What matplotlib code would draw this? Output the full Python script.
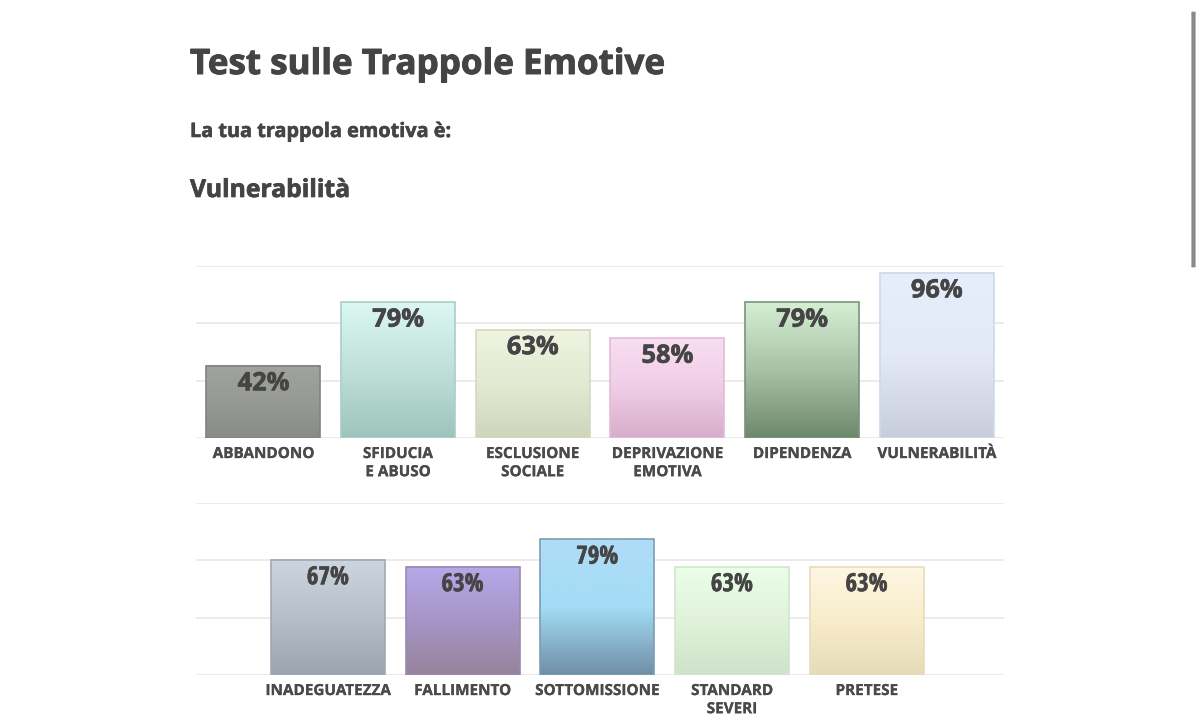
import numpy as np
import matplotlib.pyplot as plt
import matplotlib.patheffects as pe
from matplotlib.colors import LinearSegmentedColormap
from matplotlib.patches import FancyBboxPatch
from matplotlib import font_manager as fm

plt.rcParams['font.family'] = ['Open Sans', 'DejaVu Sans']

# dati
cat_alto = ['ABBANDONO', 'SFIDUCIA\nE ABUSO', 'ESCLUSIONE\nSOCIALE',
            'DEPRIVAZIONE\nEMOTIVA', 'DIPENDENZA', 'VULNERABILITÀ']
val_alto = [42, 79, 63, 58, 79, 96]
cat_basso = ['INADEGUATEZZA', 'FALLIMENTO', 'SOTTOMISSIONE',
             'STANDARD\nSEVERI', 'PRETESE']
val_basso = [67, 63, 79, 63, 63]

# sfumature (alto, centro, basso)
col_alto = [('#a1a49e', '#979a94', '#898c86'),
            ('#dcf7f1', '#bfe0d9', '#9dc4bc'),
            ('#eef4e0', '#e2ead2', '#cdd6bb'),
            ('#f9def3', '#efcde6', '#d9adcb'),
            ('#d5efd5', '#a8c1a6', '#6e886e'),
            ('#e7eefb', '#e3e9f6', '#c8cddc')]
col_basso = [('#cdd5de', '#b7bfc8', '#9ba3ac'),
             ('#b6a9e8', '#a695c6', '#96839c'),
             ('#b0dcf8', '#a4dcf5', '#6f8ea6'),
             ('#ebffe9', '#e0f2da', '#cee3cb'),
             ('#fef7e3', '#f8eccb', '#e6dbb7')]
bordi_alto = ['#80837e', '#a8cfc7', '#d2dbc2', '#e2bcd6', '#7a947a', '#d0d8ec']
bordi_basso = ['#a0a8b2', '#9a8ab0', '#7d9cb4', '#d2e6cf', '#e8ddbb']

testo = '#4a4a4a'


def font_file(nome, **kw):
    for f in fm.fontManager.ttflist:
        if f.fname.endswith(nome):
            return fm.FontProperties(fname=f.fname, **kw)
    return fm.FontProperties(family='DejaVu Sans', weight='bold', **kw)


def bold(size):
    return font_file('OpenSans-Bold.ttf', size=size)


def cond(size):
    return font_file('OpenSans-CondBold.ttf', size=size)


def spesso(lw, c):
    return [pe.withStroke(linewidth=lw, foreground=c)]


fig = plt.figure(figsize=(12, 7.18), dpi=100)
fig.patch.set_facecolor('white')

fig.text(190/1200, 1-74/718, 'Test sulle Trappole Emotive', fontproperties=bold(25.2),
         color='#444444', va='baseline', path_effects=spesso(0.7, '#444444'))
fig.text(190/1200, 1-137/718, 'La tua trappola emotiva è:', fontproperties=bold(14.3),
         color='#444444', va='baseline', path_effects=spesso(0.4, '#444444'))
fig.text(190/1200, 1-197/718, 'Vulnerabilità', fontproperties=bold(17.8),
         color='#444444', va='baseline', path_effects=spesso(0.5, '#444444'))

# barra di scorrimento
fig.patches.append(FancyBboxPatch((1192/1200, 1-267/718), 3/1200, 255/718,
                                  boxstyle='round,pad=0.0005', transform=fig.transFigure,
                                  facecolor='#8a8a8a', edgecolor='none'))


def grafico(ax, cats, vals, colori, bordi, xlim, fv):
    ax.set_xlim(*xlim)
    ax.set_ylim(0, 100)
    ax.set_yticks([0, 100/3, 200/3, 100])
    ax.yaxis.grid(True, color='#e8e8e8', lw=1.2)
    ax.set_axisbelow(True)
    for s in ax.spines.values():
        s.set_visible(False)
    ax.tick_params(axis='y', left=False, labelleft=False)
    ax.tick_params(axis='x', bottom=False, pad=3)
    x = np.arange(len(vals))
    barre = ax.bar(x, vals, width=0.846, color='none', edgecolor='none', zorder=2)
    for b, c, e, v in zip(barre, colori, bordi, vals):
        cmap = LinearSegmentedColormap.from_list('g', [c[2], c[1], c[0]])
        grad = np.linspace(0, 1, 256).reshape(-1, 1)
        x0, w, h = b.get_x(), b.get_width(), b.get_height()
        ax.imshow(grad, cmap=cmap, origin='lower', aspect='auto',
                  extent=(x0, x0 + w, 0, h), zorder=2)
        ax.add_patch(plt.Rectangle((x0, 0), w, h, facecolor='none',
                                   edgecolor=e, lw=1.2, zorder=3))
        ax.annotate(f'{v}%', (x0 + w/2, h), xytext=(0, -13),
                    textcoords='offset points', ha='center', va='center',
                    fontproperties=fv, color='#454545', zorder=4,
                    path_effects=spesso(0.4, '#454545'))
    ax.set_xlim(*xlim)
    ax.set_ylim(0, 100)
    ax.set_xticks(x)
    ax.set_xticklabels(cats, fontproperties=bold(11), color=testo,
                       linespacing=1.38, va='top')
    for t in ax.get_xticklabels():
        t.set_path_effects(spesso(0.15, testo))


ax1 = fig.add_axes([196/1200, 1-438/718, 808/1200, 172/718])
grafico(ax1, cat_alto, val_alto, col_alto, bordi_alto, (-0.5, 5.5), bold(18.3))

ax2 = fig.add_axes([196/1200, 1-675/718, 808/1200, 172/718])
grafico(ax2, cat_basso, val_basso, col_basso, bordi_basso, (-0.98, 5.02), cond(18))

fig.savefig('out.png', dpi=100, facecolor='white')
